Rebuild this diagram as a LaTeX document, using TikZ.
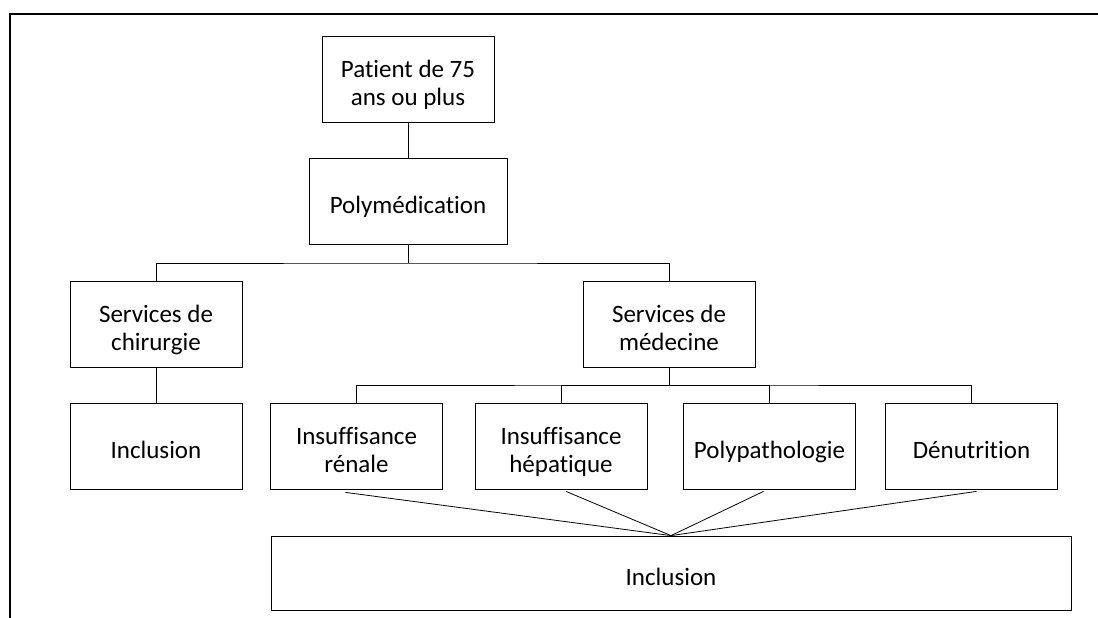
\documentclass[tikz,border=0pt]{standalone}
\usepackage{fontspec}
\setmainfont{Carlito}[Ligatures=NoCommon]

\newcommand{\lines}[1]{\begin{tabular}{@{}c@{}}#1\end{tabular}}

\begin{document}
\begin{tikzpicture}[x=1pt,y=-1pt,
    base/.style={draw,line width=0.8pt,inner sep=0pt,
        font=\fontsize{25}{28}\selectfont,
        text height=26pt,text depth=0pt},
    box/.style={base,minimum width=172pt,minimum height=86pt},
    wide/.style={base,minimum width=198pt,minimum height=86pt},
    bottombox/.style={base,minimum width=800pt,minimum height=74pt},
    link/.style={line width=0.8pt},
    ]
    \useasboundingbox (0,0) rectangle (1098,618);

    % frame of the page
    \draw[line width=1.4pt] (10,618) -- (10,14) -- (1098,14);

    \node [box] (patient) at (408,79) {\lines{Patient de 75\\ans ou plus}};
    \node [wide] (polymed) at (408,201) {\lines{Polymédication}};
    \node [box] (chir) at (156,324) {\lines{Services de\\chirurgie}};
    \node [box] (med) at (669,324) {\lines{Services de\\médecine}};
    \node [box] (inclchir) at (156,446) {\lines{Inclusion}};
    \node [box] (renal) at (356.5,446) {\lines{Insuffisance\\rénale}};
    \node [box] (hepat) at (561,446) {\lines{Insuffisance\\hépatique}};
    \node [box] (polypath) at (769.5,446) {\lines{Polypathologie}};
    \node [box] (denut) at (971.5,446) {\lines{Dénutrition}};
    \node [bottombox] (inclmed) at (671,573) {\lines{Inclusion}};

    \coordinate (split1) at (408,263);
    \coordinate (split2) at (669,385);

    \draw[link] (patient) -- (polymed);
    \draw[link] (polymed.south) -- (split1);
    \draw[link] (chir.north) |- (split1) -| (med.north);
    \draw[link] (chir) -- (inclchir);
    \draw[link] (med.south) -- (split2);
    \draw[link] (renal.north) |- (split2) -| (denut.north);
    \draw[link] (hepat.north) |- (split2);
    \draw[link] (polypath.north) |- (split2);

    % fan into the last box
    \draw[link] ([shift={(-11,3)}]renal.south) -- (inclmed.north);
    \draw[link] ([shift={(5,2)}]hepat.south) -- (inclmed.north);
    \draw[link] ([shift={(-6,2)}]polypath.south) -- (inclmed.north);
    \draw[link] ([shift={(5,2)}]denut.south) -- (inclmed.north);
\end{tikzpicture}
\end{document}
